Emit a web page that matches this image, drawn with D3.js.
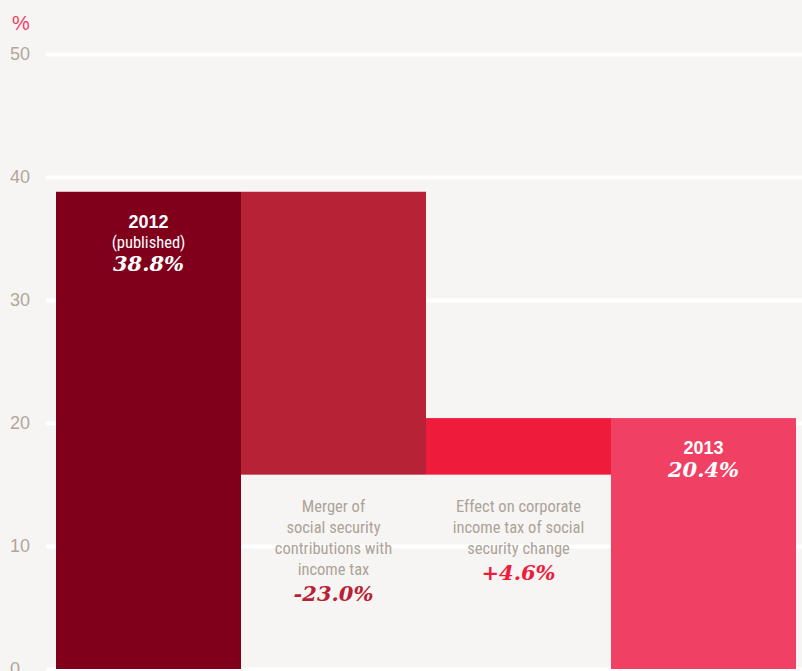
<!DOCTYPE html>
<html>
<head>
<meta charset="utf-8">
<script src="https://cdn.jsdelivr.net/npm/d3@7"></script>
<style>
  body { margin: 0; background: #f7f5f3; }
  svg { display: block; }
  .tick-label { font-family: "Liberation Sans", Arial, sans-serif; font-size: 18px; fill: #b0a79d; }
  .note { font-family: "Liberation Sans Narrow", "Roboto Condensed", "Liberation Sans", sans-serif; font-size: 16.5px; fill: #aca399; }
  .pct { font-family: "DejaVu Serif", "Liberation Serif", serif; font-weight: bold; font-style: italic; font-size: 21px; }
</style>
</head>
<body>
<div id="chart"></div>
<script>
// data
const categories = ["2012", "Merger", "Effect", "2013"];
const changes = [38.8, -23.0, 4.6, 20.4];
const isTotal = [true, false, false, true];
const barColors = ["#80001c", "#b82236", "#ee1c3a", "#f04064"];
const yTicks = [0, 10, 20, 30, 40, 50];
const valueLabels = ["38.8%", "-23.0%", "+4.6%", "20.4%"];
const barTitles = [["2012", "(published)"], [], [], ["2013"]];
const notes = [[], ["Merger of", "social security", "contributions with", "income tax"],
               ["Effect on corporate", "income tax of social", "security change"], []];

const W = 802, H = 671;
const svg = d3.select("#chart")
  .append("svg")
    .attr("width", W)
    .attr("height", H);

// scales
const xScale = d3.scaleBand()
  .domain(categories)
  .range([56, 796])
  .padding(0);
const yScale = d3.scaleLinear()
  .domain([0, 50])
  .range([669, 54]);

// waterfall start/end
let running = 0;
const steps = changes.map((v, i) => {
  let from, to;
  if (isTotal[i]) { from = 0; to = v; running = v; }
  else { from = running; to = running + v; running = to; }
  return {cat: categories[i], from: from, to: to, i: i};
});

// grid lines
svg.append("g")
  .attr("transform", "translate(46,0)")
  .call(d3.axisLeft(yScale).tickValues(yTicks).tickSize(-(W - 46)).tickFormat(""))
  .call(g => g.select(".domain").remove())
  .call(g => g.selectAll("line").attr("stroke", "#ffffff").attr("stroke-width", 4));

// tick labels
svg.append("g")
  .selectAll("text")
  .data(yTicks)
  .join("text")
    .attr("class", "tick-label")
    .attr("x", 10)
    .attr("y", d => yScale(d) + 6)
    .text(d => d);

svg.append("text")
  .attr("x", 12)
  .attr("y", 30)
  .attr("fill", "#f04064")
  .style("font-family", "Liberation Sans, Arial, sans-serif")
  .style("font-size", "20px")
  .text("%");

// bars
svg.append("g")
  .selectAll("rect")
  .data(steps)
  .join("rect")
    .attr("x", d => xScale(d.cat))
    .attr("y", d => yScale(Math.max(d.from, d.to)))
    .attr("width", xScale.bandwidth())
    .attr("height", d => Math.abs(yScale(d.from) - yScale(d.to)))
    .attr("fill", (d, i) => barColors[i]);

// labels inside total bars
steps.filter(d => isTotal[d.i]).forEach(d => {
  const cx = xScale(d.cat) + xScale.bandwidth() / 2;
  const top = yScale(d.to);
  const titles = barTitles[d.i];
  titles.forEach((t, k) => {
    svg.append("text")
      .attr("x", cx)
      .attr("y", top + 36 + k * 20)
      .attr("text-anchor", "middle")
      .attr("fill", "#ffffff")
      .style("font-family", k === 0 ? "Liberation Sans, Arial, sans-serif" : "Liberation Sans Narrow, Roboto Condensed, sans-serif")
      .style("font-weight", k === 0 ? "bold" : "normal")
      .style("font-size", k === 0 ? "18px" : "16.5px")
      .text(t);
  });
  svg.append("text")
    .attr("class", "pct")
    .attr("x", cx)
    .attr("y", top + 36 + titles.length * 20 + 3)
    .attr("text-anchor", "middle")
    .attr("fill", "#ffffff")
    .text(valueLabels[d.i]);
});

// notes below change bars
steps.filter(d => !isTotal[d.i]).forEach(d => {
  const cx = xScale(d.cat) + xScale.bandwidth() / 2;
  const lines = notes[d.i];
  lines.forEach((t, k) => {
    svg.append("text")
      .attr("class", "note")
      .attr("x", cx)
      .attr("y", 512 + k * 21)
      .attr("text-anchor", "middle")
      .text(t);
  });
  svg.append("text")
    .attr("class", "pct")
    .attr("x", cx)
    .attr("y", 512 + lines.length * 21 + 5)
    .attr("text-anchor", "middle")
    .attr("fill", barColors[d.i])
    .text(valueLabels[d.i]);
});
</script>
</body>
</html>
